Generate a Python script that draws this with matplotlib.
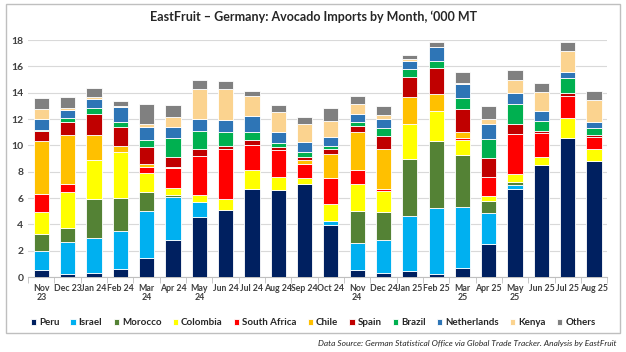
import numpy as np
import matplotlib.pyplot as plt
from matplotlib.patches import Rectangle

plt.rcParams['font.family'] = ['Lato', 'DejaVu Sans']

months = ['Nov\n23', 'Dec 23', 'Jan 24', 'Feb 24', 'Mar\n24', 'Apr 24', 'May\n24', 'Jun 24',
          'Jul 24', 'Aug 24', 'Sep 24', 'Oct 24', 'Nov\n24', 'Dec 24', 'Jan 25', 'Feb 25',
          'Mar\n25', 'Apr 25', 'May\n25', 'Jun 25', 'Jul 25', 'Aug 25']

# '000 MT per origin, per month
peru = [0.56, 0.2, 0.3, 0.63, 1.42, 2.79, 4.56, 5.12, 6.72, 6.64, 7.07, 3.96, 0.56, 0.3, 0.46, 0.2, 0.71, 2.54, 6.69, 8.52, 10.55, 8.8]
israel = [1.42, 2.49, 2.69, 2.87, 3.63, 3.3, 1.12, 0, 0, 0, 0, 0.3, 2.03, 2.54, 4.15, 5.02, 4.61, 2.3, 0.33, 0, 0, 0]
morocco = [1.32, 1.06, 2.94, 2.53, 1.39, 0.17, 0.05, 0, 0, 0, 0, 0, 2.43, 2.13, 4.37, 5.1, 3.93, 0.92, 0.18, 0, 0, 0]
colombia = [1.62, 2.74, 2.99, 3.45, 1.47, 0.48, 0.51, 0.84, 1.39, 0.94, 0.49, 1.29, 2.05, 1.55, 2.63, 2.28, 1.15, 0.43, 0.61, 0.61, 1.57, 0.96]
south_africa = [1.37, 0.58, 0, 0, 0.46, 1.55, 2.94, 3.73, 1.93, 2.05, 1.01, 2.01, 1.07, 0.17, 0, 0, 0.15, 1.39, 3.09, 1.82, 1.67, 0.89]
chile = [4.06, 3.71, 1.86, 0.51, 0.2, 0.05, 0.05, 0.05, 0, 0, 0.3, 1.82, 2.86, 3.0, 2.08, 1.27, 0.45, 0, 0, 0, 0, 0]
spain = [0.75, 0.98, 1.64, 1.42, 1.34, 0.76, 0.51, 0.25, 0.36, 0.26, 0.23, 0.38, 0.46, 1.06, 1.52, 1.98, 1.78, 1.5, 0.76, 0.15, 0.21, 0.15]
brazil = [0.05, 0.31, 0.41, 0.38, 0.49, 1.45, 1.36, 1.01, 0.63, 0.33, 0.41, 0.23, 0.3, 0.56, 0.59, 0.58, 0.81, 1.44, 1.47, 0.74, 1.14, 0.53]
netherlands = [0.82, 0.61, 0.71, 1.11, 0.98, 0.86, 0.87, 0.92, 1.24, 0.81, 0.73, 0.66, 0.66, 0.73, 0.63, 1.01, 1.04, 1.09, 0.87, 0.79, 0.43, 0.43]
kenya = [0.81, 0.15, 0.15, 0.08, 0.23, 0.76, 2.33, 2.33, 1.47, 1.49, 1.4, 1.17, 0.71, 0.28, 0.1, 0.06, 0.13, 0.43, 0.96, 1.42, 1.6, 1.68]
others = [0.82, 0.86, 0.71, 0.43, 1.52, 0.91, 0.66, 0.63, 0.41, 0.56, 0.51, 1.01, 0.66, 0.66, 0.33, 0.32, 0.81, 0.99, 0.79, 0.66, 0.65, 0.66]

series = [
    ('Peru', peru, '#002060'),
    ('Israel', israel, '#00B0F0'),
    ('Morocco', morocco, '#548235'),
    ('Colombia', colombia, '#FFFF00'),
    ('South Africa', south_africa, '#FF0000'),
    ('Chile', chile, '#FFC000'),
    ('Spain', spain, '#C00000'),
    ('Brazil', brazil, '#00B050'),
    ('Netherlands', netherlands, '#2E75B6'),
    ('Kenya', kenya, '#FBD38F'),
    ('Others', others, '#808080'),
]

fig = plt.figure(figsize=(6.26, 3.52), dpi=100)
ax = fig.add_axes([0.045, 0.213, 0.925, 0.673])

x = np.arange(len(months))
bottom = np.zeros(len(months))
for name, vals, col in series:
    vals = np.array(vals)
    ax.bar(x, vals, 0.58, bottom=bottom, color=col, edgecolor='white', linewidth=0.6, label=name, zorder=3)
    bottom += vals

ax.set_ylim(0, 18)
ax.set_xlim(-0.5, len(months) - 0.5)
ax.set_yticks(range(0, 19, 2))
ax.set_xticks(x)
ax.set_xticklabels(months, fontsize=6.3, fontweight='bold', color='#404040', linespacing=1.0)
ax.set_xticks(np.arange(-0.5, len(months), 1), minor=True)
ax.tick_params(axis='x', which='major', length=0, pad=5)
ax.tick_params(axis='x', which='minor', length=4, color='#bfbfbf')
ax.tick_params(axis='y', length=0, labelsize=7.5, labelcolor='#404040')
for lab in ax.get_yticklabels():
    lab.set_fontweight('bold')
ax.grid(axis='y', color='#d9d9d9', linewidth=0.8, zorder=0)
for s in ['top', 'right', 'left']:
    ax.spines[s].set_visible(False)
ax.spines['bottom'].set_color('#bfbfbf')

fig.text(0.5, 0.952, 'EastFruit \u2013 Germany: Avocado Imports by Month, \u2018000 MT',
         ha='center', va='center', fontsize=9, fontweight='bold', color='#262626')

leg = fig.legend(loc='center', bbox_to_anchor=(0.5, 0.083), ncol=11, frameon=False,
                 fontsize=7, handlelength=0.55, handleheight=0.55, handletextpad=0.3,
                 columnspacing=1.15, borderaxespad=0)
for t in leg.get_texts():
    t.set_fontweight('bold')
    t.set_color('#262626')

fig.patches.append(Rectangle((0.01, 0.055), 0.98, 0.935, transform=fig.transFigure,
                             fill=False, edgecolor='#bfbfbf', linewidth=1))
fig.text(0.985, 0.025, 'Data Source: German Statistical Office via Global Trade Tracker. Analysis by EastFruit',
         ha='right', va='center', fontsize=6, style='italic', color='#262626')

fig.savefig('out.png', dpi=100)
